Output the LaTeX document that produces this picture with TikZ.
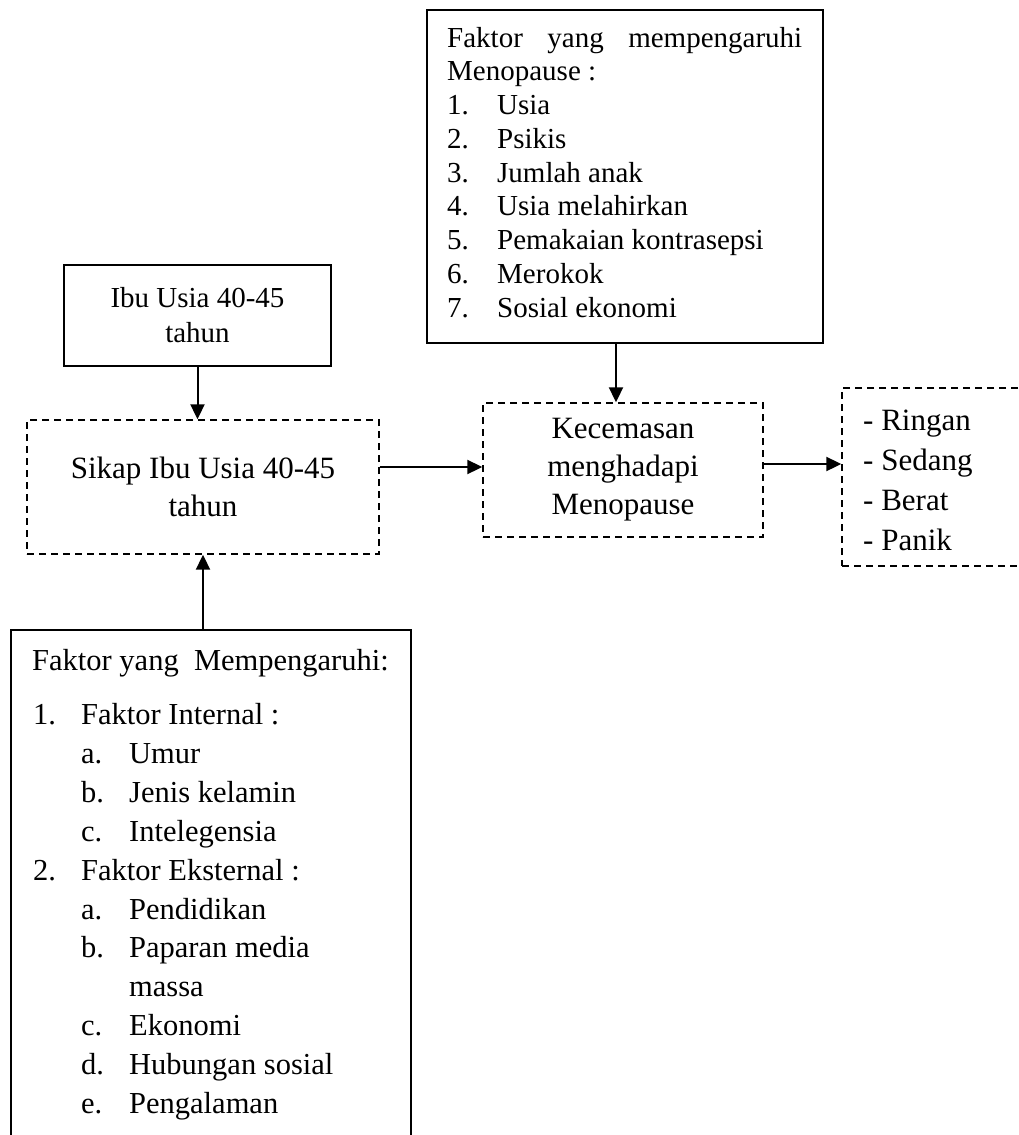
\documentclass[tikz,border=0pt]{standalone}
\usepackage{fontspec}
\setmainfont{Liberation Serif}
\usetikzlibrary{arrows.meta}
\begin{document}
\begin{tikzpicture}[x=1pt,y=-1pt,
  solidbox/.style={draw, line width=1.5pt, inner sep=0pt},
  dashbox/.style={draw, line width=1.4pt, dash pattern=on 7pt off 5pt, inner sep=0pt},
  arr/.style={-{Triangle[length=15pt,width=14pt]}, line width=2pt},
  txtA/.style={inner sep=0pt, anchor=base west, font=\fontsize{29}{34}\selectfont},
  txtB/.style={inner sep=0pt, anchor=base west, font=\fontsize{30.5}{38}\selectfont},
  txtC/.style={inner sep=0pt, anchor=base west, font=\fontsize{31}{38}\selectfont}
]
\useasboundingbox (0,0) rectangle (1019,1135);
\fill[white] (0,0) rectangle (1019,1135);

% boxes
\node[solidbox, minimum width=396pt, minimum height=333pt] (top) at (625,176.5) {};
\node[solidbox, minimum width=267pt, minimum height=101pt, align=center,
      font=\fontsize{29}{35}\selectfont] (ibu) at (197.5,315.5) {Ibu Usia 40-45\\tahun};
\node[dashbox, minimum width=352pt, minimum height=134pt, align=center,
      font=\fontsize{31}{38}\selectfont] (sikap) at (203,487) {Sikap Ibu Usia 40-45\\tahun};
\node[dashbox, minimum width=280pt, minimum height=134pt, align=center,
      font=\fontsize{31}{38}\selectfont] (kec) at (623,470) {Kecemasan\\menghadapi\\Menopause};
\node[dashbox, minimum width=179pt, minimum height=178pt] (res) at (931.5,477) {};
\node[solidbox, minimum width=400pt, minimum height=515pt] (bot) at (211,887.5) {};

% top box text
\node[txtA] (t0) at (447,47) {\makebox[355pt][l]{Faktor\hfill yang\hfill mempengaruhi}};
\node[txtA] (t1) at (447,80.75) {Menopause :};
\foreach \i/\s [count=\k from 2] in {1/Usia, 2/Psikis, 3/Jumlah anak, 4/Usia melahirkan,
    5/Pemakaian kontrasepsi, 6/Merokok, 7/Sosial ekonomi} {
  \node[txtA] (tn\i) at (447,{47+33.75*\k}) {\i.};
  \node[txtA] (tt\i) at (497,{47+33.75*\k}) {\s};
}

% result box text
\foreach \s [count=\k from 0] in {Ringan, Sedang, Berat, Panik} {
  \node[txtC] (r\k) at (863,{430+40*\k}) {- \s};
}

% bottom box text
\node[txtB] (b0) at (32,670) {Faktor yang~~Mempengaruhi:};
\node[txtB] (bn1) at (33,724.5) {1.};
\node[txtB] (bt1) at (81,724.5) {Faktor Internal :};
\node[txtB] (bna) at (81,763.4) {a.};
\node[txtB] (bta) at (129,763.4) {Umur};
\node[txtB] (bnb) at (81,802.3) {b.};
\node[txtB] (btb) at (129,802.3) {Jenis kelamin};
\node[txtB] (bnc) at (81,841.2) {c.};
\node[txtB] (btc) at (129,841.2) {Intelegensia};
\node[txtB] (bn2) at (33,880.1) {2.};
\node[txtB] (bt2) at (81,880.1) {Faktor Eksternal :};
\node[txtB] (bna2) at (81,919) {a.};
\node[txtB] (bta2) at (129,919) {Pendidikan};
\node[txtB] (bnb2) at (81,957.9) {b.};
\node[txtB] (btb2) at (129,957.9) {Paparan media};
\node[txtB] (btb3) at (129,996.8) {massa};
\node[txtB] (bnc2) at (81,1035.7) {c.};
\node[txtB] (btc2) at (129,1035.7) {Ekonomi};
\node[txtB] (bnd2) at (81,1074.6) {d.};
\node[txtB] (btd2) at (129,1074.6) {Hubungan sosial};
\node[txtB] (bne2) at (81,1113.5) {e.};
\node[txtB] (bte2) at (129,1113.5) {Pengalaman};

% connectors
\coordinate (ts) at ([xshift=-9pt]top.south);
\coordinate (kw) at ([yshift=3pt]kec.west);
\coordinate (ke) at ([yshift=6pt]kec.east);
\draw[arr] (ibu.south) -- (ibu.south |- sikap.north);
\draw[arr] (sikap.south |- bot.north) -- (sikap.south);
\draw[arr] (sikap.east |- kw) -- (kw);
\draw[arr] (ts) -- (ts |- kec.north);
\draw[arr] (ke) -- (ke -| res.west);
\end{tikzpicture}
\end{document}
